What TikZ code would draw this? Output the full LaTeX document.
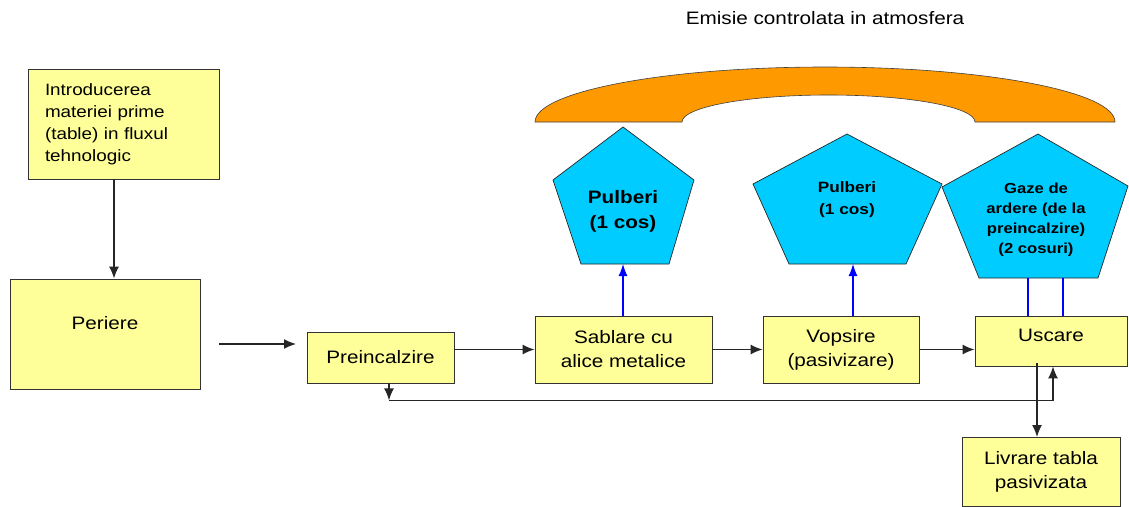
\documentclass[tikz,border=0pt]{standalone}
\usepackage{fontspec}
\setmainfont{Liberation Sans}[FakeStretch=1.15]
\usetikzlibrary{arrows.meta}
\definecolor{paleyellow}{RGB}{255,255,153}
\definecolor{skyblue}{RGB}{0,204,255}
\definecolor{archorange}{RGB}{255,153,0}
\tikzstyle{stage}=[rectangle,draw=black!80,fill=paleyellow,line width=0.8pt,
                   align=center,inner sep=2pt,font=\fontsize{18}{24}\selectfont]
\tikzstyle{emis}=[draw=black!85,fill=skyblue,line width=0.7pt]
\tikzstyle{emistext}=[align=center,font=\bfseries\fontsize{14.5}{21}\selectfont]
\tikzstyle{arr}=[-{Latex[length=12pt,width=10pt]},line width=1.4pt,black!85]
\tikzstyle{bluearr}=[-{Latex[length=12pt,width=9pt]},blue,line width=1.2pt]

\begin{document}
\begin{tikzpicture}[x=1pt,y=1pt]
    \useasboundingbox (0,0) rectangle (1129,-506);
    % title and arch
    \node (title) at (825,-18) [font=\fontsize{18}{22}\selectfont]
        {Emisie controlata in atmosfera};
    \draw[fill=archorange,draw=black!75,line width=0.6pt]
        (535,-122) arc[start angle=180,end angle=0,x radius=290,y radius=55]
        -- (975,-122) arc[start angle=0,end angle=180,x radius=146.5,y radius=27]
        -- cycle;
    % process boxes
    \node (intro) at (123.5,-124) [stage,minimum width=191pt,minimum height=110pt,
        text width=157pt,align=left,font=\fontsize{16.4}{22}\selectfont]
        {Introducerea\\materiei prime\\(table) in fluxul\\tehnologic};
    \node (per) at (105,-334) [stage,minimum width=190pt,minimum height=110pt,
        text depth=22pt] {Periere};
    \node (pre) at (380.5,-357.5) [stage,minimum width=147pt,minimum height=51pt] {Preincalzire};
    \node (sab) at (623.5,-349.5) [stage,minimum width=177pt,minimum height=67pt]
        {Sablare cu\\alice metalice};
    \node (vop) at (841,-349.5) [stage,minimum width=156pt,minimum height=67pt]
        {Vopsire\\(pasivizare)};
    \node (usc) at (1051,-341) [stage,minimum width=152pt,minimum height=50pt,
        text depth=12pt] {Uscare};
    \node (liv) at (1041,-471.5) [stage,minimum width=158pt,minimum height=69pt]
        {Livrare tabla\\pasivizata};
    % emissions
    \draw[emis] (623,-127) -- (694,-180) -- (669,-264) -- (581,-264) -- (553,-180) -- cycle;
    \draw[emis] (847,-134) -- (942,-184) -- (906,-264) -- (789,-264) -- (753,-184) -- cycle;
    \draw[emis] (1038,-134) -- (1128,-186) -- (1098,-278) -- (979,-278) -- (942,-187) -- cycle;
    \coordinate (p1b) at (623,-264);
    \coordinate (p2b) at (853,-264);
    \coordinate (p3l) at (1028,-278);
    \coordinate (p3r) at (1063,-278);
    \coordinate (out) at (1037,-437);
    \node (p1) at (623,-211) [emistext,font=\bfseries\fontsize{18}{25}\selectfont]
        {Pulberi\\(1 cos)};
    \node (p2) at (847,-200) [emistext,font=\bfseries\fontsize{15}{22}\selectfont]
        {Pulberi\\(1 cos)};
    \node (p3) at (1036,-220) [emistext,font=\bfseries\fontsize{14.5}{20}\selectfont]
        {Gaze de\\ardere (de la\\preincalzire)\\(2 cosuri)};
    % flow
    \coordinate (in1) at (219,-344);
    \coordinate (in2) at (296,-344);
    \draw[arr] ([xshift=-9.5pt]intro.south) -- ([xshift=9pt]per.north);
    \draw[arr] (in1) -- (in2);
    \draw[arr] (pre.east |- sab.west) -- (sab.west);
    \draw[arr] (sab.east) -- (vop.west);
    \draw[arr] (vop.east) -- (vop.east -| usc.west);
    \draw[arr] ([xshift=8.5pt]pre.south) -- ++(0,-17);
    \draw[arr] ([xshift=8.5pt]pre.south) ++(0,-17) -| ([xshift=2pt]usc.south);
    \draw[arr] ([yshift=3pt]usc.south -| out) -- (out);
    \draw[bluearr] (sab.north -| p1b) -- (p1b);
    \draw[bluearr] (vop.north -| p2b) -- (p2b);
    \draw[blue,line width=1.2pt] (usc.north -| p3l) -- (p3l)
        (usc.north -| p3r) -- (p3r);
\end{tikzpicture}
\end{document}
